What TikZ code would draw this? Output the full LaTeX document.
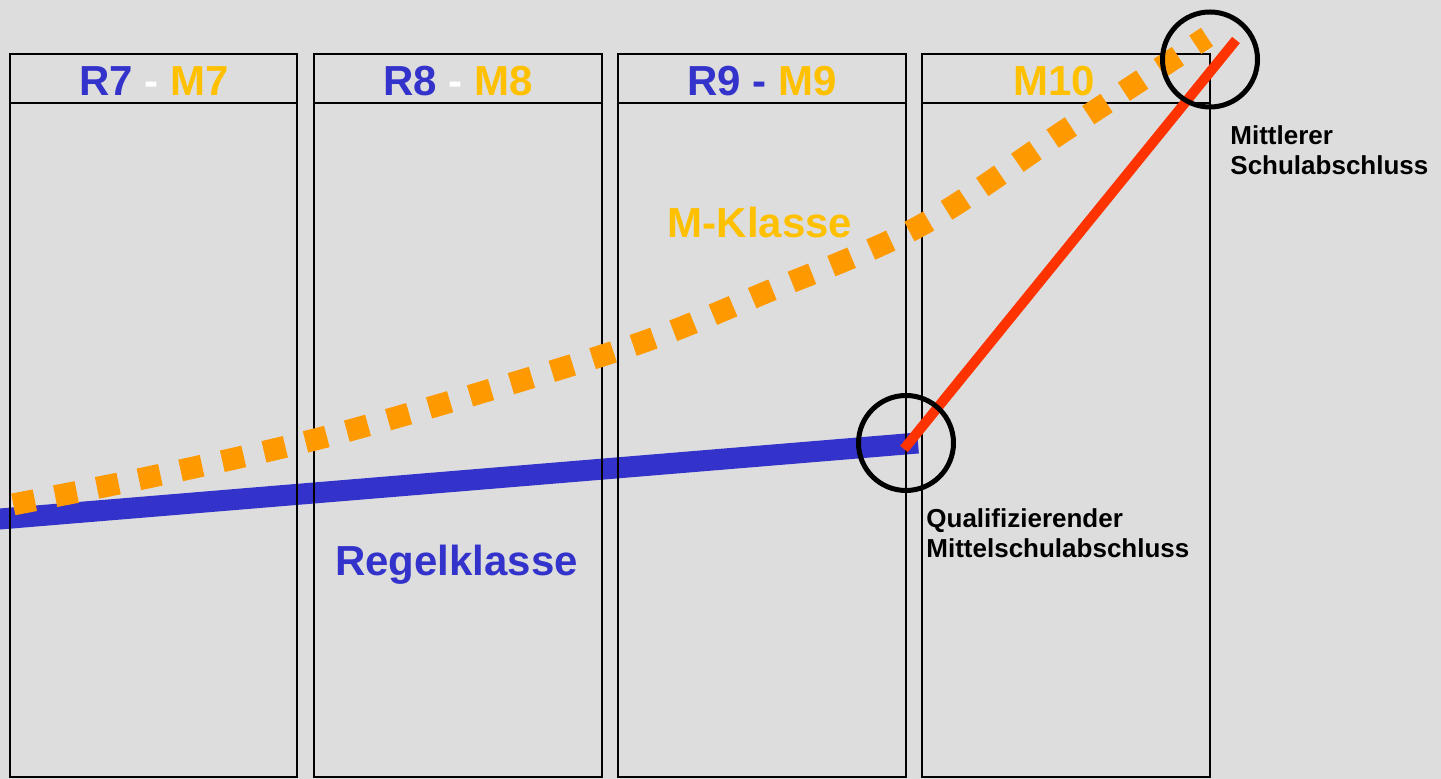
\documentclass[tikz,border=0pt]{standalone}
\usepackage{fontspec}
\setmainfont{Liberation Sans}
\definecolor{bg}{HTML}{DDDDDD}
\definecolor{rblue}{HTML}{3333CC}
\definecolor{mgold}{HTML}{FFC000}
\definecolor{morange}{HTML}{FF9900}
\definecolor{qred}{HTML}{FF3300}
\begin{document}
\begin{tikzpicture}[x=0.5pt,y=-0.5pt,
  colline/.style={draw=black,line width=1pt},
  headtext/.style={anchor=base,inner sep=0pt,font=\fontsize{21}{25}\selectfont\bfseries},
  bigtext/.style={anchor=base,inner sep=0pt,font=\fontsize{21}{25}\selectfont\bfseries},
  note/.style={anchor=base west,inner sep=0pt,align=left,font=\fontsize{13}{15.25}\selectfont\bfseries},
  regel/.style={draw=rblue,line width=10.5pt},
  mpath/.style={draw=morange,line width=11pt,dash pattern=on 11pt off 10.35pt,dash phase=14.6pt},
  qpath/.style={draw=qred,line width=5pt},
  ring/.style={circle,draw=black,line width=2.5pt,minimum size=47.5pt,inner sep=0pt}
]
\fill[bg] (0,0) rectangle (1441,779);
\useasboundingbox (0,0) rectangle (1441,779);

% blue Regelklasse line (under the columns)
\coordinate (rs) at (-5,519.4);
\coordinate (re) at (918,443);
\draw[regel] (rs) -- (re);

% columns
\foreach \l/\r in {9.5/297, 314/601.5, 617.5/905.5, 921.5/1209.5}{
  \draw[colline] (\l,54.5) rectangle (\r,777.5);
  \draw[colline] (\l,103.5) -- (\r,103.5);
}

% headers
\node[headtext] (h1) at (154,95.5) {\textcolor{rblue}{R7} \textcolor{white}{-} \textcolor{mgold}{M7}};
\node[headtext] (h2) at (458,95.5) {\textcolor{rblue}{R8} \textcolor{white}{-} \textcolor{mgold}{M8}};
\node[headtext] (h3) at (762,95.5) {\textcolor{rblue}{R9 -} \textcolor{mgold}{M9}};
\node[headtext] (h4) at (1054,95.5) {\textcolor{mgold}{M10}};

% orange M-Klasse path
\coordinate (ms) at (0,507);
\coordinate (me) at (1207,37);
\draw[mpath] plot[smooth,tension=0.55] coordinates {(0,507) (150,477) (317,439) (483,392) (643,342) (762,294) (918,227) (1061,133) (1207,37)};

% red path
\coordinate (qs) at (904,449);
\coordinate (qe) at (1236,40);
\draw[qpath] (qs) -- (qe);

% rings
\node[ring] (q) at (906,443) {};
\node[ring] (m) at (1210,59.5) {};

% labels
\node[bigtext,text=mgold] (mk) at (760,238) {M-Klasse};
\node[bigtext,text=rblue] (rk) at (456.5,576) {Regelklasse};
\node[note] (qt) at (926,558) {Qualifizierender\\Mittelschulabschluss};
\node[note] (mt) at (1230,175) {Mittlerer\\Schulabschluss};
\end{tikzpicture}
\end{document}
